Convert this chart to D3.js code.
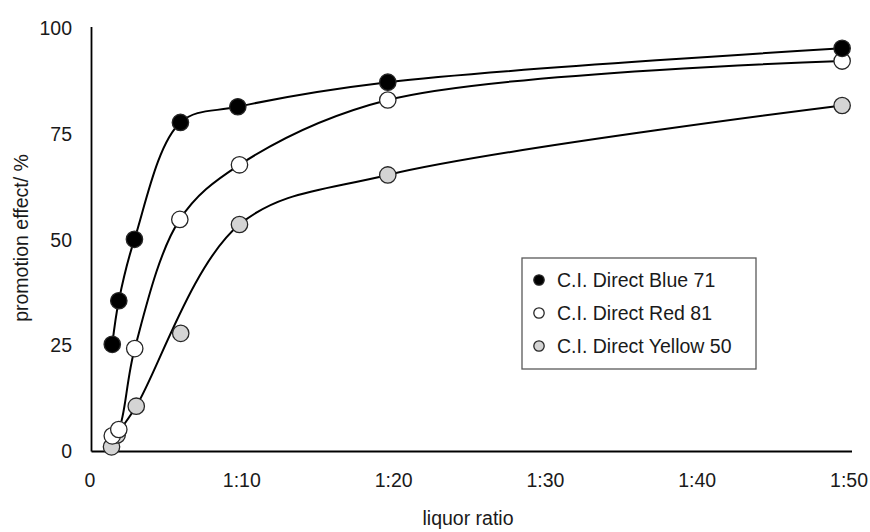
<!DOCTYPE html>
<meta charset="utf-8">
<style>

body {
  margin: 0;
  background: #ffffff;
}

svg {
  display: block;
}

text {
  font-family: 'Liberation Sans', Arial, sans-serif;
  font-size: 19.5px;
  fill: #1a1a1a;
}

.curve {
  fill: none;
  stroke: #000000;
  stroke-width: 2;
}

.dot {
  stroke: #262626;
  stroke-width: 1.3;
}

.legend-box {
  fill: #ffffff;
  stroke: #595959;
  stroke-width: 1.3;
}

</style>
<body>
<svg width="870" height="532"></svg>

<script src="https://d3js.org/d3.v7.min.js"></script>
<script>

    // series names (legend order)
    const series = ['C.I. Direct Blue 71', 'C.I. Direct Red 81', 'C.I. Direct Yellow 50']
    const fills = ['#000000', '#ffffff', '#d4d4d4']

    // liquor ratio (1:x), read per series
    const blueX = [1.5, 1.93, 2.96, 5.99, 9.77, 19.65, 49.58]
    const redX = [1.5, 1.93, 2.98, 5.95, 9.88, 19.65, 49.58]
    const yellowX = [1.45, 1.82, 3.08, 6.01, 9.88, 19.65, 49.58]

    // promotion effect / %
    const blueY = [25.3, 35.6, 50.1, 77.7, 81.4, 87.2, 95.2]
    const redY = [3.7, 5.2, 24.3, 54.8, 67.7, 83.0, 92.2]
    const yellowY = [1.1, 3.9, 10.7, 27.9, 53.6, 65.3, 81.7]

    // the yellow curve does not go through its 1:6 point
    const yellowOffCurve = [3]

    const xTicks = [0, 10, 20, 30, 40, 50]
    const yTicks = [0, 25, 50, 75, 100]

    const data = [
      { name: series[0], fill: fills[0], pts: blueX.map((x, i) => ({ x: x, y: blueY[i] })), skip: [] },
      { name: series[1], fill: fills[1], pts: redX.map((x, i) => ({ x: x, y: redY[i] })), skip: [] },
      { name: series[2], fill: fills[2], pts: yellowX.map((x, i) => ({ x: x, y: yellowY[i] })), skip: yellowOffCurve }
    ]

    const svg = d3.select('svg')

    const xScale = d3.scaleLinear()
      .domain([0, 50])
      .range([89.5, 848.5])

    const yScale = d3.scaleLinear()
      .domain([0, 100])
      .range([451.5, 28])

    // axis lines (plot frame left & bottom)
    svg.append('line')
      .attr('x1', xScale(0) + 2).attr('x2', 852)
      .attr('y1', yScale(0)).attr('y2', yScale(0))
      .attr('stroke', '#000').attr('stroke-width', 1.8)

    svg.append('line')
      .attr('x1', xScale(0) + 2).attr('x2', xScale(0) + 2)
      .attr('y1', yScale(100) - 1).attr('y2', yScale(0))
      .attr('stroke', '#000').attr('stroke-width', 1.8)

    const xAxis = svg.append('g')
      .attr('transform', `translate(0, ${yScale(0)})`)
      .call(d3.axisBottom(xScale)
        .tickValues(xTicks)
        .tickSize(0)
        .tickPadding(0)
        .tickFormat((d) => d === 0 ? '0' : `1:${d}`))
    xAxis.select('.domain').remove()
    xAxis.selectAll('text')
      .attr('y', 35.5)
      .attr('dy', null)
      .attr('fill', '#1a1a1a')

    const yAxis = svg.append('g')
      .attr('transform', `translate(72, 0)`)
      .call(d3.axisLeft(yScale)
        .tickValues(yTicks)
        .tickSize(0)
        .tickPadding(0))
    yAxis.select('.domain').remove()
    yAxis.selectAll('text')
      .attr('fill', '#1a1a1a')

    const line = d3.line()
      .x((d) => xScale(d.x))
      .y((d) => yScale(d.y))
      .curve(d3.curveCatmullRom.alpha(0.5))

    svg.selectAll('.curve')
      .data(data)
      .enter()
      .append('path')
      .attr('class', 'curve')
      .attr('d', (s) => line(s.pts.filter((p, i) => s.skip.indexOf(i) < 0)))

    // draw later series first so the black markers sit on top
    const groups = svg.selectAll('.series')
      .data(data.slice().reverse())
      .enter()
      .append('g')
      .attr('class', 'series')

    groups.selectAll('circle')
      .data((s) => s.pts.map((p) => ({ x: p.x, y: p.y, fill: s.fill })))
      .enter()
      .append('circle')
      .attr('class', 'dot')
      .attr('cx', (d) => xScale(d.x))
      .attr('cy', (d) => yScale(d.y))
      .attr('r', 8.2)
      .attr('fill', (d) => d.fill)

    // legend
    const legend = svg.append('g')
      .attr('transform', 'translate(522, 258)')

    legend.append('rect')
      .attr('class', 'legend-box')
      .attr('width', 234)
      .attr('height', 111)

    const items = legend.selectAll('.item')
      .data(data)
      .enter()
      .append('g')
      .attr('class', 'item')
      .attr('transform', (d, i) => `translate(0, ${22 + i * 33})`)

    items.append('circle')
      .attr('cx', 17)
      .attr('cy', 0)
      .attr('r', 5.2)
      .attr('fill', (d) => d.fill)
      .attr('stroke', '#262626')
      .attr('stroke-width', 1.3)

    items.append('text')
      .attr('x', 35)
      .attr('dy', '0.35em')
      .text((d) => d.name)

    svg.append('text')
      .attr('x', 468)
      .attr('y', 525)
      .attr('text-anchor', 'middle')
      .text('liquor ratio')

    svg.append('text')
      .attr('transform', 'translate(21, 238) rotate(-90)')
      .attr('dy', '0.35em')
      .attr('text-anchor', 'middle')
      .text('promotion effect/ %')

</script>
</body>
